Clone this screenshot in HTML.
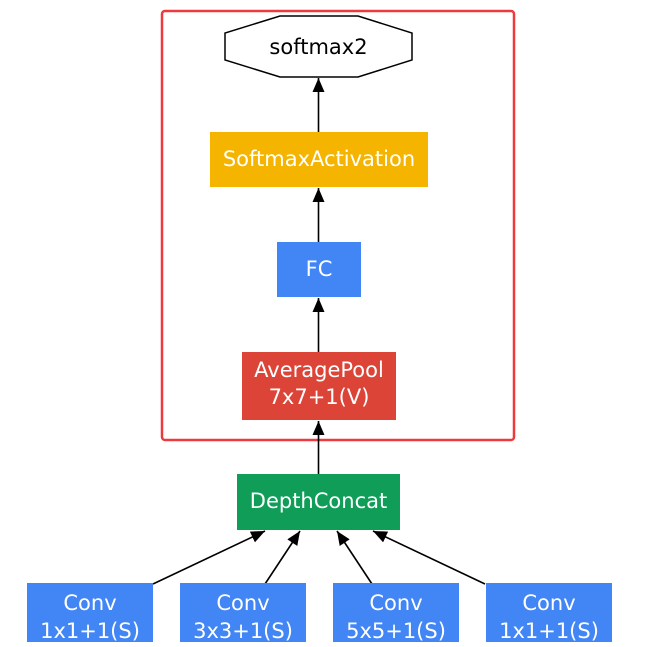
<!DOCTYPE html>
<html><head><style>body{margin:0;background:#fff}</style></head><body>
<svg width="652" height="642" viewBox="0 0 652 642" xmlns="http://www.w3.org/2000/svg" font-family="DejaVu Sans, sans-serif" font-size="21">
<defs><marker id="a" markerWidth="14" markerHeight="14" refX="14" refY="6.5" orient="auto" markerUnits="userSpaceOnUse"><path d="M0,0.5 L14,6.5 L0,12.5 z" fill="#000"/></marker></defs>
<rect x="162" y="11" width="352" height="429" rx="3" fill="none" stroke="#ee3a3c" stroke-width="2.5"/>
<polygon points="280,16 358,16 412,33 412,60 358,77 280,77 225,60 225,33" fill="#fff" stroke="#000" stroke-width="1.5"/>
<text x="318.5" y="54" text-anchor="middle" fill="#000">softmax2</text>
<rect x="210" y="132" width="218" height="55" fill="#f4b400"/>
<text x="319" y="166" text-anchor="middle" fill="#fff">SoftmaxActivation</text>
<rect x="277" y="242" width="84" height="55" fill="#4285f4"/>
<text x="319" y="276" text-anchor="middle" fill="#fff">FC</text>
<rect x="242" y="352" width="154" height="68" fill="#db4437"/>
<text x="319" y="377" text-anchor="middle" fill="#fff">AveragePool</text>
<text x="319" y="404" text-anchor="middle" fill="#fff">7x7+1(V)</text>
<rect x="237" y="474" width="163" height="56" fill="#0f9d58"/>
<text x="318.5" y="508" text-anchor="middle" fill="#fff">DepthConcat</text>
<g stroke="#000" stroke-width="1.6" marker-end="url(#a)">
<line x1="318.5" y1="132" x2="318.5" y2="78"/>
<line x1="318.5" y1="242" x2="318.5" y2="188"/>
<line x1="318.5" y1="352" x2="318.5" y2="298"/>
<line x1="318.5" y1="474" x2="318.5" y2="421"/>
<line x1="153" y1="584" x2="265" y2="531"/>
<line x1="265" y1="584" x2="300" y2="531"/>
<line x1="372" y1="584" x2="337" y2="531"/>
<line x1="485" y1="584" x2="373" y2="531"/>
</g>
<g fill="#4285f4">
<rect x="27" y="583" width="126" height="70"/>
<rect x="180" y="583" width="126" height="70"/>
<rect x="333" y="583" width="126" height="70"/>
<rect x="486" y="583" width="126" height="70"/>
</g>
<g fill="#fff" text-anchor="middle">
<text x="90" y="610">Conv</text><text x="90" y="638">1x1+1(S)</text>
<text x="243" y="610">Conv</text><text x="243" y="638">3x3+1(S)</text>
<text x="396" y="610">Conv</text><text x="396" y="638">5x5+1(S)</text>
<text x="549" y="610">Conv</text><text x="549" y="638">1x1+1(S)</text>
</g>
</svg>
</body></html>
